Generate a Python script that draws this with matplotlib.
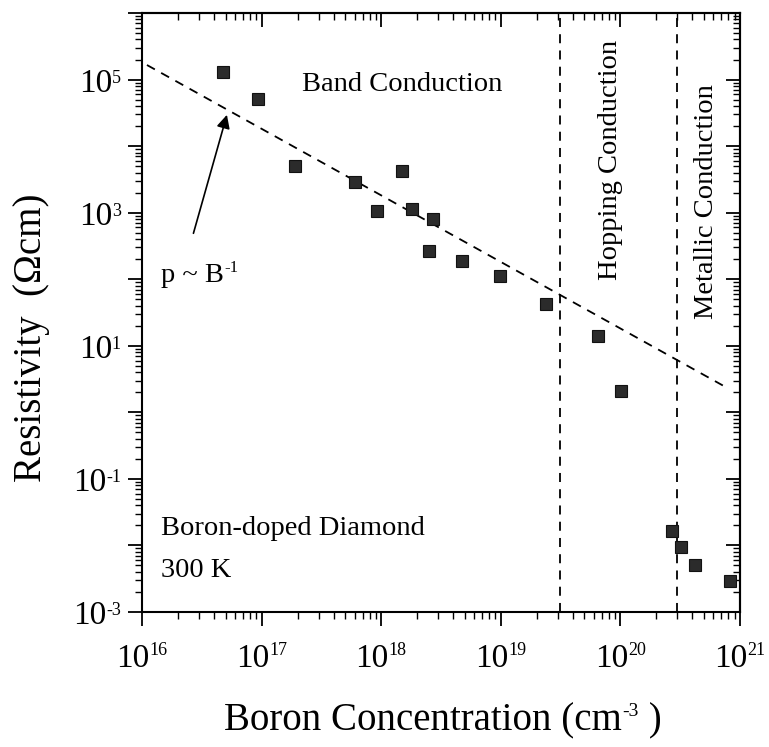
import numpy as np
import matplotlib
matplotlib.use("Agg")
import matplotlib.pyplot as plt
from matplotlib.ticker import LogLocator, NullFormatter
from matplotlib.transforms import IdentityTransform

plt.rcParams['font.family'] = ['Liberation Serif', 'DejaVu Serif']

# ---- data ----
boron_conc = [4.8e16, 9.3e16, 1.9e17, 6.0e17, 1.5e18, 9.3e17, 1.8e18, 2.7e18,
              2.5e18, 4.7e18, 9.8e18, 2.4e19, 6.5e19, 1.02e20, 2.7e20, 3.2e20,
              4.2e20, 8.3e20]
resistivity = [1.3e5, 5.1e4, 5.1e3, 2.9e3, 4.2e3, 1.05e3, 1.12e3, 8.1e2,
               2.7e2, 1.86e2, 1.12e2, 4.3e1, 1.38e1, 2.1e0, 1.66e-2, 9.5e-3,
               5.0e-3, 2.95e-3]
fit_exponent = -1.0          # p ~ B^-1
fit_log_intercept = 21.26    # log10(rho) at log10(B)=0
fit_range = [1.1e16, 7.6e20]
boundaries = [3.1e19, 3.0e20]  # hopping, metallic
x_decades = [16, 17, 18, 19, 20, 21]
y_label_decades = [-3, -1, 1, 3, 5]

W, H = 769, 747
fig = plt.figure(figsize=(W/100, H/100), dpi=100)
ax = fig.add_axes([142/W, 1-612/H, 598/W, 599/H])
ax.set_xscale('log')
ax.set_yscale('log')
ax.set_xlim(1e16, 1e21)
ax.set_ylim(1e-3, 1e6)

# fit line
xf = np.array(fit_range)
yf = 10**(fit_log_intercept + fit_exponent*np.log10(xf))
ax.plot(xf, yf, color='black', lw=1.3, ls=(0, (5, 4)))

for b in boundaries:
    ax.axvline(b, color='black', lw=1.3, ls=(0, (5, 4)))

ax.plot(boron_conc, resistivity, ls='none', marker='s', ms=8.3,
        mfc='#2b2b2b', mec='#111111', mew=0.8)

# annotations
tfs = 20.5
ax.text(10**17.34, 10**4.92, 'Band Conduction', fontsize=tfs, va='center', ha='left')
ax.text(10**19.92, 10**3.79, 'Hopping Conduction', fontsize=tfs, rotation=90,
        va='center', ha='center')
ax.text(10**20.72, 10**3.16, 'Metallic Conduction', fontsize=tfs, rotation=90,
        va='center', ha='center')
ax.text(10**16.16, 10**-1.75, 'Boron-doped Diamond', fontsize=tfs,
        va='center', ha='left')
ax.text(10**16.16, 10**-2.37, '300 K', fontsize=tfs, va='center', ha='left')
ax.annotate('', xy=(10**16.71, 10**4.47), xytext=(10**16.43, 10**2.69),
            arrowprops=dict(arrowstyle='-|>', lw=1.2, color='black',
                            mutation_scale=20, shrinkA=0, shrinkB=0))

# ticks
def setup_axis(axis):
    axis.set_major_locator(LogLocator(base=10, numticks=30))
    axis.set_minor_locator(LogLocator(base=10, subs=np.arange(2, 10), numticks=30))
    axis.set_minor_formatter(NullFormatter())
    axis.set_major_formatter(NullFormatter())

setup_axis(ax.xaxis)
setup_axis(ax.yaxis)
ax.tick_params(which='major', direction='out', length=10, width=1.3)
ax.tick_params(which='minor', direction='out', length=5, width=1.0)

for side in ['top', 'right']:
    if side == 'top':
        sec = ax.secondary_xaxis('top')
        axis = sec.xaxis
    else:
        sec = ax.secondary_yaxis('right')
        axis = sec.yaxis
    setup_axis(axis)
    sec.tick_params(which='major', direction='in', length=10, width=1.3)
    sec.tick_params(which='minor', direction='in', length=5, width=1.0)
    for s in sec.spines.values():
        s.set_linewidth(1.5)
for s in ax.spines.values():
    s.set_linewidth(1.5)

renderer = fig.canvas.get_renderer()

def piece_row(x, y_baseline, pieces, ha='center'):
    """pieces: (string, fontsize, raise_px); x, y in pixels from top-left."""
    texts = []
    for s, fs, dy in pieces:
        t = fig.text(0, 0, s, fontsize=fs, transform=IdentityTransform(),
                     ha='left', va='baseline')
        texts.append((t, dy))
    widths = [t.get_window_extent(renderer).width for t, _ in texts]
    total = sum(widths)
    if ha == 'center':
        x0 = x - total/2
    elif ha == 'right':
        x0 = x - total
    else:
        x0 = x
    for (t, dy), w in zip(texts, widths):
        t.set_position((x0, H - y_baseline + dy))
        x0 += w

def sup(e):
    return str(e).replace('-', '-')

for e in x_decades:
    px = ax.transData.transform((10.0**e, 1.0))[0]
    piece_row(px, 667, [('10', 24, 0), (sup(e), 13, 12)], ha='center')

for e in y_label_decades:
    py = H - ax.transData.transform((1e16, 10.0**e))[1]
    piece_row(121, py + 12, [('10', 24, 0), (sup(e), 13, 9)], ha='right')

# p ~ B^-1
bx = ax.transData.transform((10**16.16, 1.0))[0]
by = H - ax.transData.transform((1e16, 10**1.958))[1]
piece_row(bx, by, [('p ~ B', tfs, 0), ('-1', 12, 10)], ha='left')

fig.text(32/W, 1-338/H, 'Resistivity  (\u03a9cm)', fontsize=28,
         rotation=90, ha='center', va='center')
piece_row(443, 730, [('Boron Concentration (cm', 28, 0), ('-3', 14, 14), (' )', 28, 0)],
          ha='center')

fig.savefig('out.png', dpi=100)
